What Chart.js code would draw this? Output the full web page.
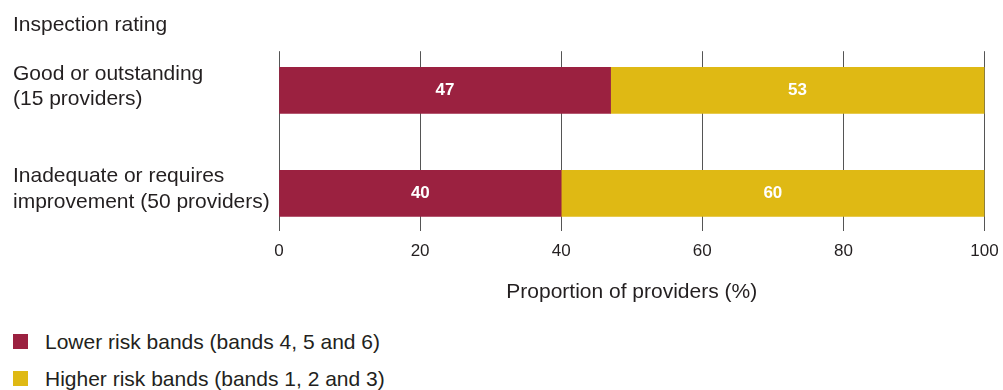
<!DOCTYPE html>
<html>
<head>
<meta charset="utf-8">
<script src="https://cdn.jsdelivr.net/npm/chart.js@4"></script>
<style>
  body { margin: 0; background: #fff; font-family: "Liberation Sans", Arial, sans-serif; color: #231f20; }
  #wrap { position: relative; width: 1003px; height: 390px; }
  #legend { position: absolute; left: 13px; top: 323px; font-size: 21px; }
  .item { display: flex; align-items: center; height: 37px; }
  .box { width: 15px; height: 15px; margin-right: 17px; }
</style>
</head>
<body>
<div id="wrap">
  <canvas id="chart" width="1003" height="305"></canvas>
  <div id="legend"></div>
</div>
<script>
// categories (inspection rating), one per row
const categories = [
  ["Good or outstanding", "(15 providers)"],
  ["Inadequate or requires", "improvement (50 providers)"]
];
const rowPos = [0, 1];

// series: proportion of providers (%)
const lowerRisk = [47, 40];
const higherRisk = [53, 60];
const seriesNames = ["Lower risk bands (bands 4, 5 and 6)", "Higher risk bands (bands 1, 2 and 3)"];
const seriesColors = ["#9b2140", "#dfb914"];
const xTicks = [0, 20, 40, 60, 80, 100];

const FONT = "'Liberation Sans', Arial, sans-serif";
const TEXT = "#231f20";

// white numbers inside each segment
const barLabels = {
  id: "barLabels",
  afterDatasetsDraw(chart) {
    const ctx = chart.ctx;
    ctx.save();
    ctx.fillStyle = "#fff";
    ctx.font = "bold 17px " + FONT;
    ctx.textAlign = "center";
    ctx.textBaseline = "middle";
    chart.data.datasets.forEach((ds, i) => {
      chart.getDatasetMeta(i).data.forEach((bar, j) => {
        const left = Math.min(bar.x, bar.base);
        const right = Math.max(bar.x, bar.base);
        ctx.fillText(ds.data[j].x, (left + right) / 2, bar.y);
      });
    });
    ctx.restore();
  }
};

const toPoints = (vals) => vals.map((v, i) => ({ x: v, y: rowPos[i] }));

new Chart(document.getElementById("chart"), {
  type: "bar",
  data: {
    datasets: [
      { label: seriesNames[0], data: toPoints(lowerRisk), backgroundColor: seriesColors[0], barThickness: 46 },
      { label: seriesNames[1], data: toPoints(higherRisk), backgroundColor: seriesColors[1], barThickness: 46 }
    ]
  },
  options: {
    indexAxis: "y",
    responsive: false,
    animation: false,
    layout: { padding: { left: 13, right: 18.5, top: 0, bottom: 0 } },
    plugins: {
      legend: { display: false },
      tooltip: { enabled: false },
      title: {
        display: true,
        text: "Inspection rating",
        align: "start",
        color: TEXT,
        font: { family: FONT, size: 21, weight: "normal", lineHeight: 1.2 },
        padding: { top: 13, bottom: 13 }
      }
    },
    scales: {
      x: {
        type: "linear",
        stacked: true,
        min: 0,
        max: 100,
        afterBuildTicks: (s) => { s.ticks = xTicks.map((v) => ({ value: v })); },
        afterFit: (s) => { s.paddingLeft = 0; s.paddingRight = 0; },
        grid: { color: "#555", lineWidth: 1, drawTicks: false },
        border: { display: false },
        ticks: { color: TEXT, padding: 10, font: { family: FONT, size: 17 } },
        title: {
          display: true,
          text: "Proportion of providers (%)",
          color: TEXT,
          font: { family: FONT, size: 21, lineHeight: 1.2 },
          padding: { top: 8, bottom: 0 }
        }
      },
      y: {
        type: "linear",
        stacked: true,
        reverse: true,
        offset: false,
        min: -0.38,
        max: 1.37,
        afterBuildTicks: (s) => { s.ticks = rowPos.map((v) => ({ value: v })); },
        afterFit: (s) => { s.width = 266; },
        grid: { display: false },
        border: { display: false },
        ticks: {
          crossAlign: "far",
          color: TEXT,
          padding: 0,
          labelOffset: -4,
          font: { family: FONT, size: 21, lineHeight: 1.2 },
          callback: (v) => categories[rowPos.indexOf(v)]
        }
      }
    }
  },
  plugins: [barLabels]
});

// legend rows
const legend = document.getElementById("legend");
seriesNames.forEach((name, i) => {
  const row = document.createElement("div");
  row.className = "item";
  const box = document.createElement("span");
  box.className = "box";
  box.style.background = seriesColors[i];
  const txt = document.createElement("span");
  txt.textContent = name;
  row.appendChild(box);
  row.appendChild(txt);
  legend.appendChild(row);
});
</script>
</body>
</html>
